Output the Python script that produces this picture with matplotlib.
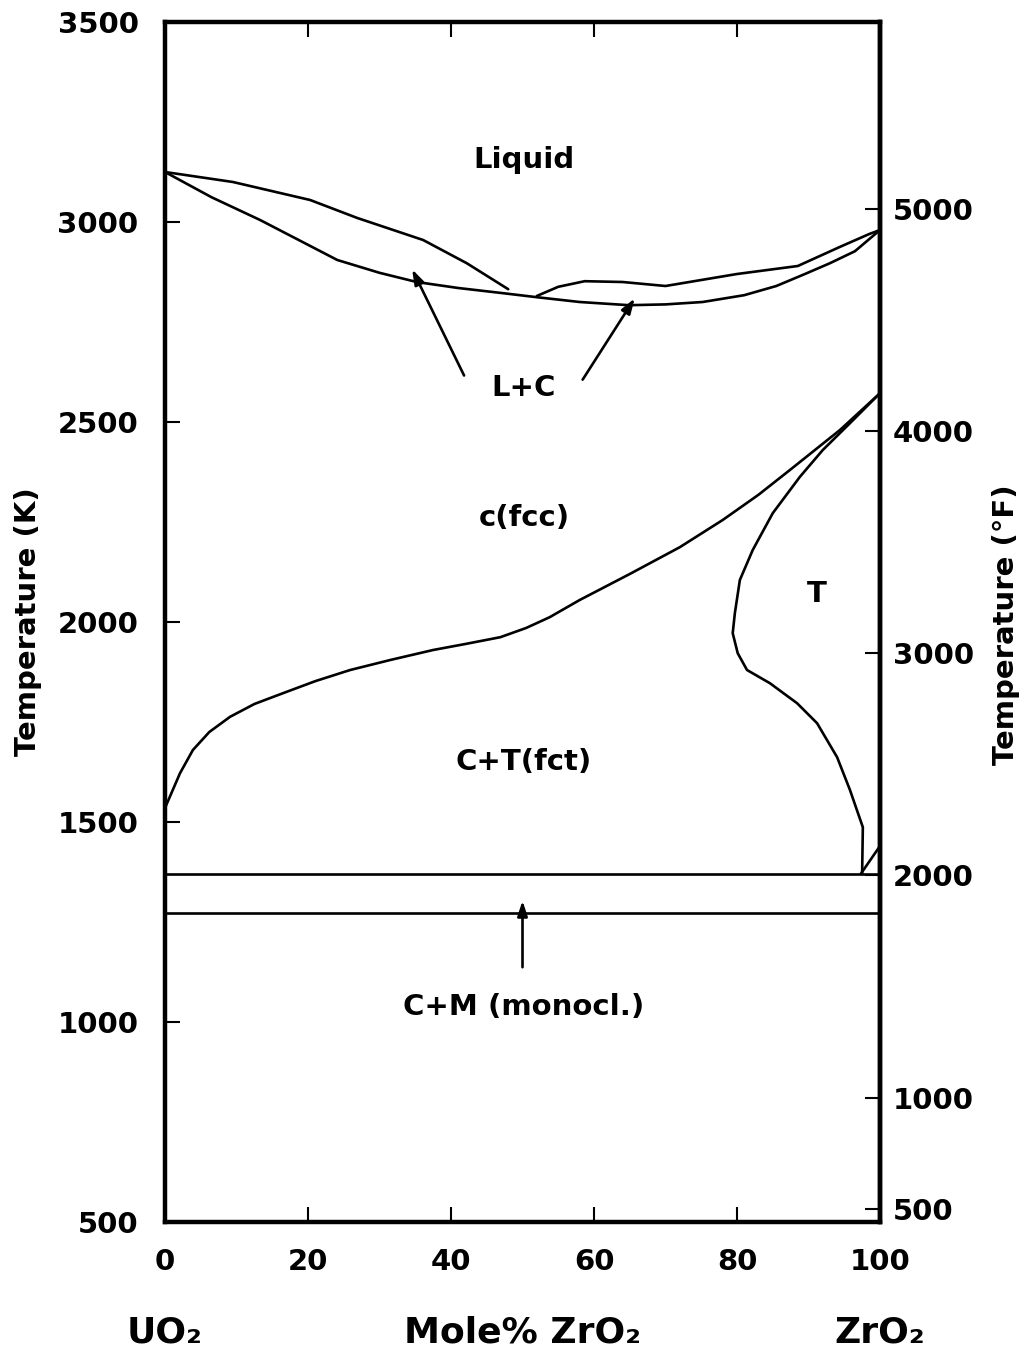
import matplotlib.pyplot as plt
import numpy as np

# phase boundaries: mole% ZrO2 vs temperature (K)
liq_left_x = [0, 9.5, 20.3, 26.9, 36.1, 42.2, 48.0]
liq_left_t = [3125, 3100, 3055, 3010, 2955, 2897, 2832]
liq_right_x = [52.0, 55.0, 58.7, 64.0, 70.0, 80.0, 88.5, 94.3, 98.5, 100]
liq_right_t = [2815, 2838, 2852, 2850, 2840, 2870, 2890, 2937, 2970, 2980]
sol_x = [0, 6.5, 13.3, 24.1, 30.0, 35.2, 41.0, 47.3, 52.0, 58.0, 64.9, 70.0, 75.2, 81.0, 85.5, 89.5, 93.0, 96.5, 100]
sol_t = [3125, 3062, 3005, 2905, 2873, 2850, 2835, 2822, 2812, 2800, 2792, 2794, 2800, 2817, 2840, 2870, 2897, 2927, 2980]

ct_x = [0, 2.1, 3.9, 6.2, 9.1, 12.5, 16.5, 21.0, 25.9, 31.5, 37.5, 42.0, 46.9, 50.5, 53.8, 58.0,
        65.0, 72.0, 78.0, 83.0, 87.4, 94.4, 100]
ct_t = [1535, 1622, 1680, 1725, 1763, 1795, 1822, 1852, 1880, 1905, 1930, 1945, 1962, 1985, 2012, 2055,
        2120, 2187, 2255, 2318, 2380, 2480, 2572]

t_x = [100, 95.8, 92.0, 88.8, 85.0, 82.2, 80.4, 79.7, 79.4, 80.1, 81.4, 84.6, 88.4, 91.2, 94.0, 95.8, 97.6, 97.5]
t_t = [2572, 2497, 2430, 2363, 2272, 2180, 2105, 2022, 1972, 1922, 1880, 1847, 1797, 1747, 1662, 1580, 1487, 1370]

tri_x = [97.3, 100]
tri_t = [1370, 1440]

eutectoid_t = [1370, 1272]

x_ticks = [0, 20, 40, 60, 80, 100]
k_ticks = [500, 1000, 1500, 2000, 2500, 3000, 3500]
f_ticks = [500, 1000, 2000, 3000, 4000, 5000]

regions = [("Liquid", 50.2, 3155), ("L+C", 50.2, 2585), ("c(fcc)", 50.2, 2260),
           ("T", 91.2, 2070), ("C+T(fct)", 50.2, 1650), ("C+M (monocl.)", 50.2, 1037)]


def k2f(k):
    return (k - 273.15) * 9 / 5 + 32


def f2k(f):
    return (f - 32) * 5 / 9 + 273.15


plt.rcParams['font.family'] = 'DejaVu Sans'
plt.rcParams['font.weight'] = 'bold'

fig = plt.figure(figsize=(10.29, 13.51), dpi=100)
ax = fig.add_axes([165 / 1029, 1 - 1222 / 1351, 715 / 1029, 1200 / 1351])

lw = 1.9
for xs, ts in [(liq_left_x, liq_left_t), (liq_right_x, liq_right_t), (sol_x, sol_t),
               (ct_x, ct_t), (t_x, t_t), (tri_x, tri_t)]:
    ax.plot(xs, ts, color='black', lw=lw, solid_capstyle='round', solid_joinstyle='round')
for t in eutectoid_t:
    ax.axhline(t, color='black', lw=lw)

arrow = dict(arrowstyle='-|>,head_length=0.9,head_width=0.3', color='black', lw=lw)
ax.annotate('', xy=(34.4, 2888), xytext=(42.0, 2610), arrowprops=arrow)
ax.annotate('', xy=(65.9, 2815), xytext=(58.2, 2600), arrowprops=arrow)
ax.annotate('', xy=(50.0, 1310), xytext=(50.0, 1130), arrowprops=arrow)

for label, x, t in regions:
    ax.text(x, t, label, ha='center', va='center', fontsize=21, fontweight='bold')

ax.set_xlim(0, 100)
ax.set_ylim(500, 3500)
ax.set_xticks(x_ticks)
ax.set_yticks(k_ticks)
ax.tick_params(axis='both', direction='in', length=11, width=1.5, labelsize=21,
               top=True, right=False)
ax.tick_params(axis='y', pad=19)
ax.tick_params(axis='x', pad=19)
for s in ax.spines.values():
    s.set_linewidth(3.2)

sec = ax.secondary_yaxis('right', functions=(k2f, f2k))
sec.set_yticks(f_ticks)
sec.tick_params(direction='in', length=11, width=1.5, labelsize=21, pad=9)
sec.spines['right'].set_linewidth(3.2)

fig.text(28 / 1029, 1 - 622 / 1351, 'Temperature (K)', rotation=90, ha='center', va='center',
         fontsize=21, fontweight='bold')
fig.text(1006 / 1029, 1 - 625 / 1351, 'Temperature (°F)', rotation=90, ha='center', va='center',
         fontsize=21, fontweight='bold')

for label, x in [("UO₂", 0), ("Mole% ZrO₂", 50), ("ZrO₂", 100)]:
    ax.annotate(label, xy=(x, -0.0917), xycoords=('data', 'axes fraction'), ha='center',
                va='center', fontsize=26, fontweight='bold', annotation_clip=False)

fig.savefig('out.png', dpi=100)
